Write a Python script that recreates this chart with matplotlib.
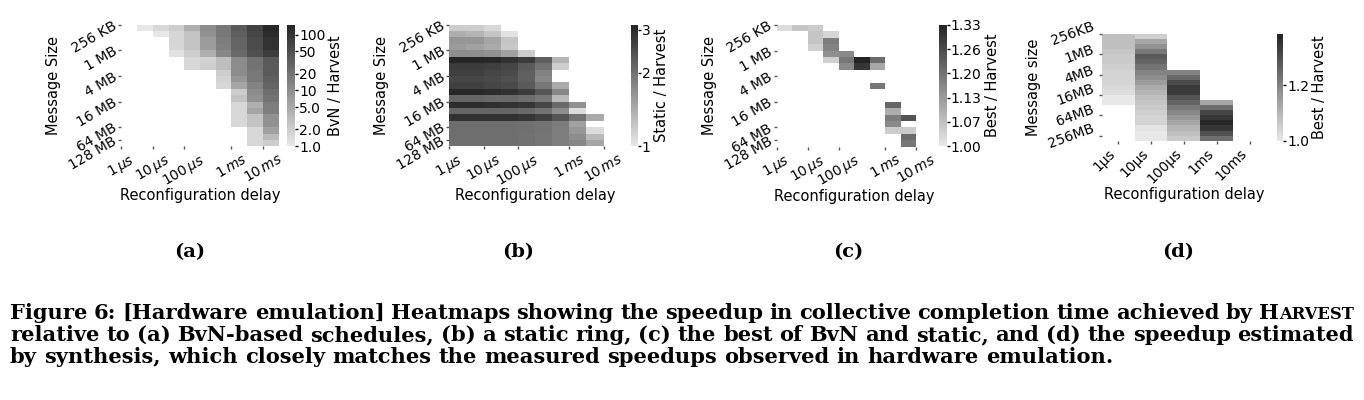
import numpy as np
import matplotlib
matplotlib.use("Agg")
import matplotlib.pyplot as plt
from matplotlib.colors import LinearSegmentedColormap, LogNorm, Normalize

n = np.nan

# y ticks: message sizes (rows go in steps of sqrt(2))
size_labels = ["256 KB", "1 MB", "4 MB", "16 MB", "64 MB", "128 MB"]
size_labels_d = ["256KB", "1MB", "4MB", "16MB", "64MB", "256MB"]
# x ticks: reconfiguration delay
delay_labels = [r"$1\,\mu s$", r"$10\,\mu s$", r"$100\,\mu s$", r"$1\,ms$", r"$10\,ms$"]
delay_labels_d = ["1μs", "10μs", "100μs", "1ms", "10ms"]

# (a) BvN / Harvest
bvn_speedup = [
    [n, 1.0, 1.55, 2.0, 4.3, 10.5, 17.5, 37.7, 71, 135],
    [n, n, 1.0, 1.6, 2.6, 9.2, 17.5, 33, 63, 119],
    [n, n, n, 1.6, 2.6, 7.2, 15.4, 29, 55, 105],
    [n, n, n, 1.55, 2.6, 7.2, 14.3, 29, 55, 105],
    [n, n, n, 1.2, 2.0, 4.3, 11.9, 25.7, 49, 81],
    [n, n, n, n, 1.55, 1.75, 2.9, 10.5, 19.9, 37.7],
    [n, n, n, n, 1.55, 2.0, 2.9, 10.5, 19.9, 37.7],
    [n, n, n, n, n, n, 2.0, 10.5, 17.5, 37.7],
    [n, n, n, n, n, n, 1.75, 8.2, 17.5, 33],
    [n, n, n, n, n, n, 1.55, 5.5, 13.5, 29],
    [n, n, n, n, n, n, n, 2.0, 10.5, 22.6],
    [n, n, n, n, n, n, n, 2.6, 9.2, 19.9],
    [n, n, n, n, n, n, n, 1.55, 4.3, 15.4],
    [n, n, n, n, n, n, n, 1.55, 5.5, 15.4],
    [n, n, n, n, n, n, n, 1.55, 2.6, 9.2],
    [n, n, n, n, n, n, n, 1.55, 2.6, 9.2],
    [n, n, n, n, n, n, n, n, 1.55, 6.3],
    [n, n, n, n, n, n, n, n, 1.55, 3.3],
    [n, n, n, n, n, n, n, n, 1.55, 2.0],
]

# (b) Static / Harvest
static_speedup = [
    [1.17, 1.17, 1.09, n, n, n, n, n, n, n],
    [1.40, 1.36, 1.24, 1.04, n, n, n, n, n, n],
    [1.62, 1.62, 1.48, 1.24, n, n, n, n, n, n],
    [1.57, 1.52, 1.44, 1.21, n, n, n, n, n, n],
    [1.71, 1.71, 1.66, 1.52, 1.17, n, n, n, n, n],
    [3.10, 3.10, 3.08, 2.90, 2.74, 2.23, 1.36, n, n, n],
    [2.74, 2.74, 2.66, 2.58, 2.30, 1.98, 1.17, n, n, n],
    [2.66, 2.66, 2.58, 2.51, 2.23, 1.82, n, n, n, n],
    [2.58, 2.58, 2.51, 2.43, 2.23, 1.76, n, n, n, n],
    [2.66, 2.66, 2.58, 2.51, 2.30, 1.93, 1.44, n, n, n],
    [3.08, 3.08, 2.99, 2.90, 2.74, 2.36, 1.76, n, n, n],
    [2.16, 2.16, 2.10, 2.10, 2.04, 1.93, 1.32, n, n, n],
    [2.99, 2.99, 2.93, 2.90, 2.82, 2.58, 2.10, 1.66, n, n],
    [2.16, 2.16, 2.16, 2.16, 2.10, 1.98, 1.71, 1.07, n, n],
    [2.90, 2.90, 2.90, 2.90, 2.82, 2.66, 2.36, 1.98, 1.44, n],
    [2.04, 2.04, 2.04, 2.04, 2.02, 1.98, 1.87, 1.52, n, n],
    [2.04, 2.04, 2.04, 2.04, 2.02, 1.98, 1.87, 1.62, 1.07, n],
    [2.04, 2.04, 2.04, 2.04, 2.01, 1.95, 1.87, 1.71, 1.32, n],
    [2.04, 2.04, 2.04, 2.04, 2.01, 1.95, 1.87, 1.76, 1.48, n],
]

# (c) Best / Harvest
best_speedup = [
    [1.02, 1.06, 1.05, n, n, n, n, n, n, n],
    [n, n, 1.06, 1.03, n, n, n, n, n, n],
    [n, n, 1.06, 1.18, n, n, n, n, n, n],
    [n, n, 1.04, 1.17, n, n, n, n, n, n],
    [n, n, n, 1.15, 1.16, n, n, n, n, n],
    [n, n, n, 1.04, 1.19, 1.33, 1.21, n, n, n],
    [n, n, n, n, 1.16, 1.30, 1.11, n, n, n],
    [n, n, n, n, n, n, n, n, n, n],
    [n, n, n, n, n, n, n, n, n, n],
    [n, n, n, n, n, n, 1.19, n, n, n],
    [n, n, n, n, n, n, n, n, n, n],
    [n, n, n, n, n, n, n, n, n, n],
    [n, n, n, n, n, n, n, 1.22, n, n],
    [n, n, n, n, n, n, n, 1.10, n, n],
    [n, n, n, n, n, n, n, 1.18, 1.25, n],
    [n, n, n, n, n, n, n, 1.16, n, n],
    [n, n, n, n, n, n, n, 1.05, 1.05, n],
    [n, n, n, n, n, n, n, n, 1.21, n],
    [n, n, n, n, n, n, n, n, 1.19, n],
]

# (d) estimated by synthesis
synth_speedup = [
    [1.08, 1.05, n, n, n],
    [1.08, 1.13, n, n, n],
    [1.08, 1.17, n, n, n],
    [1.07, 1.22, n, n, n],
    [1.06, 1.28, n, n, n],
    [1.06, 1.26, n, n, n],
    [1.05, 1.23, n, n, n],
    [1.04, 1.20, 1.20, n, n],
    [1.04, 1.18, 1.25, n, n],
    [1.04, 1.15, 1.31, n, n],
    [1.03, 1.12, 1.34, n, n],
    [1.02, 1.10, 1.34, n, n],
    [1.00, 1.08, 1.29, n, n],
    [1.00, 1.07, 1.26, 1.13, n],
    [n, 1.06, 1.22, 1.24, n],
    [n, 1.05, 1.19, 1.32, n],
    [n, 1.04, 1.16, 1.35, n],
    [n, 1.04, 1.13, 1.38, n],
    [n, 1.01, 1.10, 1.35, n],
    [n, 1.00, 1.08, 1.30, n],
    [n, 1.00, 1.06, 1.24, n],
]

cmap = LinearSegmentedColormap.from_list("grey_ramp", ["#e8e8e8", "#242424"])
cmap.set_bad("white")

W, H = 1364, 400
fig = plt.figure(figsize=(W / 100, H / 100), dpi=100)


def box(x0, y0, x1, y1):
    # pixel box (top-left origin) -> figure fraction
    return [x0 / W, 1 - y1 / H, (x1 - x0) / W, (y1 - y0) / H]


def heat(ax_box, cax_box, data, norm, cb_ticks, cb_labels, cb_title,
         xticks, xlabels, yticks, ylabels, xrot, yrot, ylabel, panel_d=False):
    ax = fig.add_axes(box(*ax_box))
    cax = fig.add_axes(box(*cax_box))
    arr = np.ma.masked_invalid(np.array(data, dtype=float))
    mesh = ax.pcolormesh(arr, cmap=cmap, norm=norm)
    ax.set_xlim(0, arr.shape[1])
    ax.set_ylim(arr.shape[0], 0)
    for s in ax.spines.values():
        s.set_visible(False)
    ax.set_xticks(xticks)
    ax.set_yticks(yticks)
    ax.tick_params(length=2, width=1, color="#555555", labelsize=10, pad=2)
    if panel_d:
        ax.set_xticklabels(xlabels, rotation=xrot, ha="right")
        ax.set_yticklabels(ylabels, rotation=yrot, ha="right", va="center")
        ax.set_xlabel("Reconfiguration delay", fontsize=10.5, labelpad=0.5)
    else:
        ax.set_xticklabels(xlabels, rotation=xrot, ha="center")
        ax.set_yticklabels(ylabels, rotation=yrot, ha="right", va="center",
                           rotation_mode="anchor")
        ax.set_xlabel("Reconfiguration delay", fontsize=10.5, labelpad=-1)
    ax.set_ylabel(ylabel, fontsize=10.5)

    cb = fig.colorbar(mesh, cax=cax)
    cb.outline.set_visible(False)
    cb.ax.minorticks_off()
    cb.set_ticks(cb_ticks)
    cb.set_ticklabels(cb_labels)
    cb.ax.tick_params(length=2, width=1, labelsize=10, pad=1)
    cb.set_label(cb_title, fontsize=10.5, labelpad=2)
    return ax


heat((121.3, 24.7, 278.7, 146.3), (287.2, 24.7, 294.8, 146.3),
     bvn_speedup, LogNorm(1, 150), [1, 2, 5, 10, 20, 50, 100],
     ["1.0", "2.0", "5.0", "10", "20", "50", "100"], "BvN / Harvest",
     [0, 2, 4, 7, 9], delay_labels, [0, 4, 8, 12, 16, 18], size_labels,
     30, 30, "Message Size")

heat((449.3, 24.7, 620.7, 146.3), (631.0, 24.7, 637.7, 146.3),
     static_speedup, LogNorm(1, 3.15), [1, 2, 3], ["1", "2", "3"],
     "Static / Harvest",
     [0, 2, 4, 7, 9], delay_labels, [0, 4, 8, 12, 16, 18], size_labels,
     30, 30, "Message Size")

heat((776.7, 25.0, 931.7, 146.7), (939.3, 25.0, 946.7, 146.0),
     best_speedup, Normalize(1.0, 1.33), list(np.linspace(1.0, 1.33, 6)),
     ["1.00", "1.07", "1.13", "1.20", "1.26", "1.33"], "Best / Harvest",
     [0, 2, 4, 7, 9], delay_labels, [0, 4, 8, 12, 16, 18], size_labels,
     30, 30, "Message Size")

heat((1101.7, 34.0, 1266.0, 140.7), (1276.7, 34.0, 1283.3, 140.7),
     synth_speedup, Normalize(1.0, 1.386), [1.0, 1.2], ["1.0", "1.2"],
     "Best / Harvest",
     [0.5, 1.5, 2.5, 3.5, 4.5], delay_labels_d, [0, 4, 8, 12, 16, 20],
     size_labels_d, 45, 20, "Message size", panel_d=True)

# sub-figure labels
serif = dict(family="DejaVu Serif", weight="bold")
for x, lab in zip([190, 518, 848, 1178], ["(a)", "(b)", "(c)", "(d)"]):
    fig.text(x / W, 1 - 257 / H, lab, ha="center", va="baseline",
             fontsize=14, **serif)

# caption, justified like the paper
cap_size = 15.1
r = fig.canvas.get_renderer()


def text_w(s, size):
    t = fig.text(0, 0, s, fontsize=size, **serif)
    w = t.get_window_extent(r).width
    t.remove()
    return w


def words_of(line):
    out = []
    for w in line.split(" "):
        if w == "HARVEST":
            out.append([("H", cap_size), ("ARVEST", cap_size * 0.78)])
        else:
            out.append([(w, cap_size)])
    return out


def draw_line(line, base_y, justify, x0=10, x1=1354):
    words = words_of(line)
    widths = [sum(text_w(s, z) for s, z in wd) for wd in words]
    space = text_w("a a", cap_size) - text_w("aa", cap_size)
    gap = space
    if justify:
        gap = max((x1 - x0 - sum(widths)) / (len(words) - 1), 0.5 * space)
    x = x0
    for wd, ww in zip(words, widths):
        px = x
        for s, z in wd:
            fig.text(px / W, 1 - base_y / H, s, fontsize=z, va="baseline",
                     ha="left", **serif)
            px += text_w(s, z)
        x += ww + gap


draw_line("Figure 6: [Hardware emulation] Heatmaps showing the speedup in "
          "collective completion time achieved by HARVEST", 319, True)
draw_line("relative to (a) BvN-based schedules, (b) a static ring, (c) the best "
          "of BvN and static, and (d) the speedup estimated", 341, True)
draw_line("by synthesis, which closely matches the measured speedups observed "
          "in hardware emulation.", 363, False)

fig.savefig("out.png", dpi=100)
